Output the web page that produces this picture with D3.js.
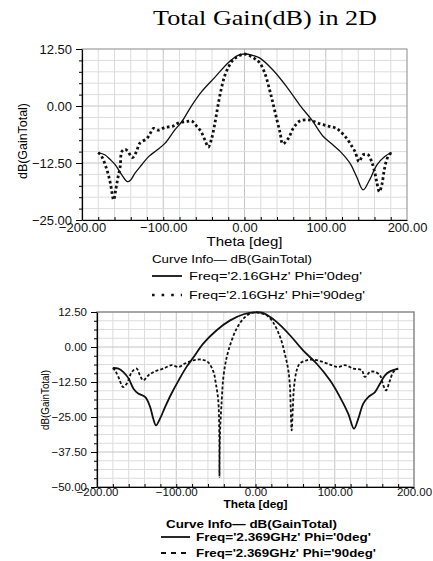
<!DOCTYPE html>
<html lang="en">
<head>
<meta charset="UTF-8">
<title>Total Gain(dB) in 2D</title>
<script src="https://d3js.org/d3.v7.min.js"></script>
<style>
  body { margin: 0; background: #fff; }
  svg { display: block; font-family: "Liberation Sans", Arial, sans-serif; }
  .grid line { stroke: #dcdcdc; stroke-width: 1; }
  .grid line.major { stroke: #c4c4c4; }
  .axis path { stroke: #000; }
  .axis line { stroke: #000; }
  .axis text { fill: #111; }
</style>
</head>
<body>
<div id="chart"></div>
<script>
// theta [deg], dB(GainTotal)
const topPhi0 = [
  [-180,-10.2],[-172,-10.7],[-165,-11.8],[-159,-12.9],[-151,-15.1],[-144,-16.6],[-140,-16.2],
  [-135,-14.8],[-127,-13.0],[-118,-11.1],[-108,-9.7],[-98,-8.2],[-86,-5.3],[-77,-3.4],
  [-65,0.1],[-53,3.1],[-36,6.4],[-20,9.5],[-8,11.1],[0,11.4],[10,11.1],[19,10.5],[35,7.9],
  [52,4.2],[68,0.2],[83,-3.1],[97,-6.7],[108,-8.4],[118,-10.0],[130,-12.6],[138,-15.5],
  [146,-18.4],[154,-16.2],[163,-12.9],[173,-11.0],[181,-10.2]
];
const topPhi90 = [
  [-180,-10.2],[-176,-11.0],[-172,-12.6],[-168,-14.8],[-165,-17.0],[-161,-20.6],[-158.5,-18.4],
  [-156,-15.9],[-153,-13.3],[-151,-10.0],[-147,-9.5],[-144,-9.8],[-138,-11.3],[-133,-10.0],
  [-129,-8.2],[-120,-7.1],[-116,-6.0],[-112,-4.9],[-106,-5.3],[-98,-4.7],[-88,-4.4],[-81,-3.7],
  [-71,-3.4],[-65,-3.3],[-59,-4.4],[-53.5,-5.6],[-48.6,-7.5],[-44.5,-9.0],[-40.4,-7.1],
  [-37.2,-4.5],[-34.3,-1.6],[-31.4,1.3],[-28,4.2],[-24,6.8],[-19,8.8],[-14,10.1],[-8,10.9],
  [0,11.4],[8,10.9],[14,10.2],[19,9.4],[25,7.2],[31,3.5],[35,0.6],[40,-3.1],[44,-6.0],
  [47,-8.3],[54,-7.1],[60,-4.9],[68,-3.3],[81,-3.1],[91,-3.8],[103,-4.4],[113,-4.9],
  [118,-5.6],[124,-6.7],[130,-8.2],[136,-10.0],[141,-12.2],[146,-10.7],[152,-10.7],
  [156.5,-12.2],[160.6,-14.8],[162.7,-16.6],[166,-18.8],[169,-17.3],[172,-14.0],[175,-11.8],
  [178,-10.7],[181,-10.2]
];
const botPhi0 = [
  [-180,-7.5],[-173,-7.7],[-167,-8.9],[-160,-11.3],[-154,-14.9],[-148,-16.6],[-139,-17.9],
  [-133,-21.4],[-129,-25.6],[-125.5,-28.0],[-120.5,-25.6],[-114,-21.4],[-106,-16.6],[-97,-11.9],
  [-87,-7.1],[-78,-3.6],[-66,1.2],[-49,6.0],[-32,9.5],[-15,11.7],[0,12.4],[10,12.1],[27,8.9],
  [43.5,4.2],[60,-1.2],[77,-5.9],[94,-11.9],[106.6,-17.9],[117,-23.8],[124.3,-29.2],
  [129.7,-25.6],[136,-20.2],[142.3,-17.9],[150.8,-16.1],[157,-13.1],[163.4,-10.1],
  [169.7,-8.7],[180,-7.7]
];
const botPhi90 = [
  [-180,-7.5],[-177,-8.5],[-173,-10.7],[-167,-14.3],[-162.5,-13.1],[-156,-8.9],[-150,-7.7],
  [-146,-10.0],[-141.6,-11.9],[-135,-10.1],[-127,-8.7],[-116,-7.7],[-106,-6.5],[-97,-7.1],
  [-89,-5.9],[-78.5,-4.75],[-68,-4.5],[-60,-5.4],[-53,-8.9],[-50,-13.1],[-47,-19.0],
  [-45.7,-30.9],[-45.5,-46.4],[-44.8,-31.0],[-42.6,-19.0],[-40.5,-10.7],[-36.3,-3.6],
  [-30,2.4],[-23.7,6.6],[-15.4,10.1],[-7,11.9],[0,12.4],[7,12.0],[14,11.3],[22,8.9],
  [31,3.6],[37,-2.4],[41.4,-8.3],[43.5,-14.3],[44.4,-21.4],[45.6,-29.8],[47.2,-21.4],
  [48.6,-14.3],[52,-8.3],[56,-5.9],[64.6,-4.75],[73,-4.5],[85.6,-5.4],[96,-6.5],
  [104.5,-7.1],[113,-6.5],[123.5,-7.7],[134,-8.3],[138,-10.7],[144.5,-8.9],[150.8,-8.9],
  [157,-10.1],[161.3,-13.7],[164.7,-15.5],[169,-12.5],[174,-8.9],[180,-7.7]
];

const xTicks = [-200, -100, 0, 100, 200];
const topYTicks = [-25, -12.5, 0, 12.5];
const botYTicks = [-50, -37.5, -25, -12.5, 0, 12.5];
const topLegend = ["Freq='2.16GHz' Phi='0deg'", "Freq='2.16GHz' Phi='90deg'"];
const botLegend = ["Freq='2.369GHz' Phi='0deg'", "Freq='2.369GHz' Phi='90deg'"];

const W = 433, H = 561;
const svg = d3.select("#chart").append("svg").attr("width", W).attr("height", H);

svg.append("text")
  .attr("x", 265).attr("y", 25)
  .attr("text-anchor", "middle")
  .attr("font-family", "'Liberation Serif', 'Times New Roman', serif")
  .attr("font-size", 22)
  .attr("textLength", 224).attr("lengthAdjust", "spacingAndGlyphs")
  .text("Total Gain(dB) in 2D");

const fmt = d3.format(".2f");

function panel(cfg) {
  const x = d3.scaleLinear().domain([-200, 200]).range([cfg.left, cfg.right]);
  const y = d3.scaleLinear().domain(cfg.yDomain).range([cfg.bottom, cfg.top]);
  const g = svg.append("g");

  // grid
  const grid = g.append("g").attr("class", "grid");
  grid.selectAll(".v").data(d3.range(-180, 200, 20)).join("line")
    .attr("class", d => d % 100 === 0 ? "major" : null)
    .attr("x1", d => x(d)).attr("x2", d => x(d))
    .attr("y1", cfg.top).attr("y2", cfg.bottom);
  const yMinor = d3.range(cfg.yDomain[0] + cfg.yStep, cfg.yDomain[1] - 0.01, cfg.yStep);
  grid.selectAll(".h").data(yMinor).join("line")
    .attr("class", d => Math.abs(d % 12.5) < 1e-6 ? "major" : null)
    .attr("x1", cfg.left).attr("x2", cfg.right)
    .attr("y1", d => y(d)).attr("y2", d => y(d));

  // frame
  g.append("rect")
    .attr("x", cfg.left).attr("y", cfg.top)
    .attr("width", cfg.right - cfg.left).attr("height", cfg.bottom - cfg.top)
    .attr("fill", "none").attr("stroke", "#8a8a8a").attr("stroke-width", cfg.frameW);

  // minor ticks
  g.append("g").attr("class", "axis")
    .attr("transform", `translate(${cfg.left},0)`)
    .call(d3.axisLeft(y).tickValues(yMinor.concat(cfg.yDomain)).tickSize(3).tickFormat(""))
    .call(a => a.select(".domain").remove());
  g.append("g").attr("class", "axis")
    .attr("transform", `translate(0,${cfg.bottom})`)
    .call(d3.axisTop(x).tickValues(d3.range(-180, 200, 20)).tickSize(3).tickFormat(""))
    .call(a => a.select(".domain").remove());

  // major axes
  const ya = g.append("g").attr("class", "axis")
    .attr("transform", `translate(${cfg.left},0)`)
    .call(d3.axisLeft(y).tickValues(cfg.yTicks).tickSize(6).tickSizeOuter(0).tickPadding(4).tickFormat(fmt));
  ya.selectAll("text").attr("font-size", cfg.tickFont).attr("font-family", "'Liberation Sans', Arial, sans-serif");
  ya.select(".domain").attr("stroke-width", 1.2);

  const xa = g.append("g").attr("class", "axis")
    .attr("transform", `translate(0,${cfg.bottom})`)
    .call(d3.axisBottom(x).tickValues(xTicks).tickSize(0).tickSizeOuter(0).tickPadding(cfg.xPad).tickFormat(fmt));
  xa.selectAll("text").attr("font-size", cfg.tickFont).attr("font-family", "'Liberation Sans', Arial, sans-serif");
  xa.select(".domain").attr("stroke", "#777");

  g.append("text")
    .attr("x", x(0)).attr("y", cfg.thetaY)
    .attr("text-anchor", "middle")
    .attr("font-size", cfg.thetaFont).attr("font-weight", cfg.thetaWeight)
    .attr("textLength", cfg.thetaLen).attr("lengthAdjust", "spacingAndGlyphs")
    .text("Theta [deg]");

  g.append("text")
    .attr("transform", `translate(${cfg.yLabelX},${cfg.yLabelY}) rotate(-90)`)
    .attr("text-anchor", "middle")
    .attr("font-size", cfg.yLabelFont)
    .attr("textLength", cfg.yLabelLen).attr("lengthAdjust", "spacingAndGlyphs")
    .text("dB(GainTotal)");

  // curves
  const line = d3.line().x(d => x(d[0])).y(d => y(d[1])).curve(d3.curveCatmullRom.alpha(0.5));
  g.append("path").datum(cfg.solid)
    .attr("fill", "none").attr("stroke", "#111").attr("stroke-width", cfg.solidW)
    .attr("d", line);
  g.append("path").datum(cfg.dashed)
    .attr("fill", "none").attr("stroke", "#111").attr("stroke-width", cfg.dashW)
    .attr("stroke-dasharray", cfg.dash)
    .attr("d", line);

  // legend
  const lg = svg.append("g").attr("font-size", cfg.legFont).attr("font-weight", cfg.legWeight);
  lg.append("text").attr("x", cfg.leg.x0).attr("y", cfg.leg.y[0])
    .attr("textLength", cfg.leg.len[0]).attr("lengthAdjust", "spacingAndGlyphs")
    .text("Curve Info\u2014 dB(GainTotal)");
  cfg.legText.forEach((t, i) => {
    const yy = cfg.leg.y[i + 1];
    lg.append("line")
      .attr("x1", cfg.leg.l1).attr("x2", cfg.leg.l2)
      .attr("y1", yy - 4).attr("y2", yy - 4)
      .attr("stroke", "#111")
      .attr("stroke-width", i === 0 ? 1.8 : cfg.legDashW)
      .attr("stroke-dasharray", i === 0 ? null : cfg.legDash);
    lg.append("text").attr("x", cfg.leg.tx).attr("y", yy)
      .attr("textLength", cfg.leg.len[i + 1]).attr("lengthAdjust", "spacingAndGlyphs")
      .text(t);
  });
}

panel({
  left: 82, right: 407, top: 49, bottom: 220,
  yDomain: [-25, 12.5], yTicks: topYTicks, yStep: 2.5,
  frameW: 1, tickFont: 13, xPad: 3,
  thetaY: 246, thetaFont: 12, thetaWeight: "normal", thetaLen: 76,
  yLabelX: 27, yLabelY: 141, yLabelFont: 12, yLabelLen: 76,
  solid: topPhi0, dashed: topPhi90, solidW: 1.3, dashW: 2.8, dash: "2.6,2.6",
  legFont: 11.5, legWeight: "normal", legDashW: 2.6, legDash: "2.6,7",
  legText: topLegend,
  leg: { x0: 152, y: [263, 280, 299], len: [160, 173, 176], l1: 152, l2: 182, tx: 189 }
});

panel({
  left: 97, right: 414, top: 312, bottom: 487,
  yDomain: [-50, 12.5], yTicks: botYTicks, yStep: 3.125,
  frameW: 1.5, tickFont: 11.5, xPad: 1,
  thetaY: 508, thetaFont: 10.5, thetaWeight: "bold", thetaLen: 64,
  yLabelX: 49, yLabelY: 400, yLabelFont: 10, yLabelLen: 60,
  solid: botPhi0, dashed: botPhi90, solidW: 1.8, dashW: 1.8, dash: "3,2",
  legFont: 11.5, legWeight: "bold", legDashW: 1.8, legDash: "5,5",
  legText: botLegend,
  leg: { x0: 166, y: [528, 541, 557], len: [171, 175, 180], l1: 161, l2: 190, tx: 196 }
});
</script>
</body>
</html>
